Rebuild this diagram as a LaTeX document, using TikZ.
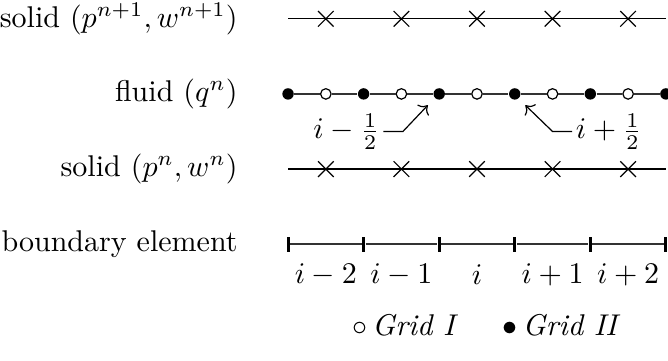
\documentclass[tikz,border=0pt]{standalone}
\usepackage{amsmath}
\usepackage{tikz}
\usetikzlibrary{arrows.meta, positioning, shapes.misc}

\begin{document}
\begin{tikzpicture}[
    x=0.885cm, y=0.88cm,
    rowlabel/.style={anchor=east, inner sep=0pt},
    filled/.style={circle, fill, inner sep=0pt, minimum size=3.8pt},
    hollow/.style={circle, draw, inner sep=0pt, minimum size=3.5pt},
    cross/.style={cross out, draw, inner sep=0pt, minimum size=4.8pt},
    tickmark/.style={fill, inner sep=0pt, minimum width=1pt, minimum height=5pt},
    axisline/.style={line width=0.6pt, black!80}
  ]
  \useasboundingbox (-3.812,-1.545) rectangle (5.028,3.25);

  % row labels
  \node[rowlabel] (ltop) at (-0.66,3) {solid $(p^{n+1}, w^{n+1})$};
  \node[rowlabel] (lfl)  at (-0.66,2) {fluid $(q^n)$};
  \node[rowlabel] (lbot) at (-0.66,1) {solid $(p^n, w^n)$};
  \node[rowlabel] (lbe)  at (-0.66,0) {boundary element};

  % solid rows
  \foreach \y/\r in {3/t, 1/b} {
    \coordinate (\r s) at (0,\y);
    \coordinate (\r e) at (5,\y);
    \draw (\r s) -- (\r e);
    \foreach \i in {1,...,5}
      \node[cross] (\r\i) at (\i-0.5,\y) {};
  }

  % fluid row
  \foreach \i in {0,2,...,10}
    \node[filled] (f\i) at (\i/2,2) {};
  \foreach \i in {1,3,...,9}
    \node[hollow] (f\i) at (\i/2,2) {};
  \foreach \i [evaluate=\i as \j using int(\i+1)] in {0,...,9}
    \draw[axisline] (f\i) -- (f\j);

  % half indices
  \coordinate (hl) at (1.85,1.85);
  \coordinate (hr) at (3.14,1.85);
  \node[anchor=east, inner sep=1pt] (ml) at (1.26,1.5) {$i-\frac{1}{2}$};
  \node[anchor=west, inner sep=1pt] (mr) at (3.76,1.5) {$i+\frac{1}{2}$};
  \draw[->] (ml.east) -- ++(0.26,0) -- (hl);
  \draw[->] (mr.west) -- ++(-0.26,0) -- (hr);

  % boundary elements
  \foreach \i in {0,...,5}
    \node[tickmark] (e\i) at (\i,0) {};
  \foreach \i [evaluate=\i as \j using int(\i+1)] in {0,...,4}
    \draw[axisline] (e\i) -- (e\j);

  \foreach \i/\t in {1/i-2, 2/i-1, 3/i, 4/i+1, 5/i+2}
    \node (n\i) at (\i-0.5,-0.41) {$\t$};

  % legend
  \node (g1) at (1.55,-1.08) {$\circ$\,\textit{Grid I}};
  \node (g2) at (3.62,-1.08) {$\bullet$\,\textit{Grid II}};
\end{tikzpicture}
\end{document}
